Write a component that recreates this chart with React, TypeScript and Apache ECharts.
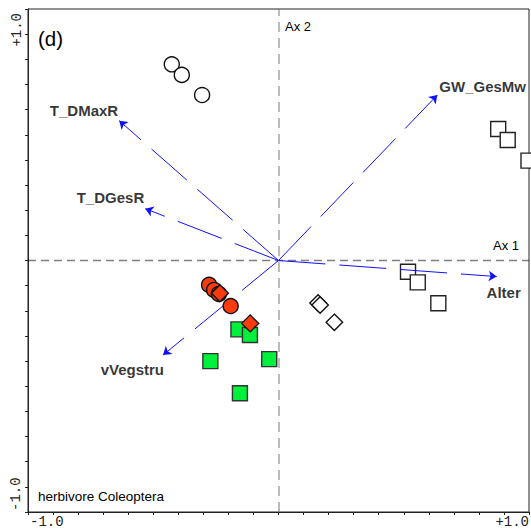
import React, { useEffect, useRef } from "react";
import * as echarts from "echarts";

// ---- data (ordination scores) ----
const openCircles = [[-0.426, 0.780], [-0.386, 0.738], [-0.305, 0.658]];
const openSquares = [[0.877, 0.523], [0.915, 0.479], [0.998, 0.397], [0.517, -0.045], [0.556, -0.087], [0.638, -0.170]];
const openDiamonds = [[0.158, -0.169], [0.166, -0.177], [0.223, -0.246]];
const greenSquares = [[-0.160, -0.274], [-0.114, -0.296], [-0.272, -0.400], [-0.037, -0.392], [-0.154, -0.528]];
const redCircles = [[-0.277, -0.097], [-0.257, -0.117], [-0.238, -0.133], [-0.191, -0.181]];
const redDiamonds = [[-0.234, -0.130], [-0.113, -0.250]];

const vectorNames = ["GW_GesMw", "T_DMaxR", "T_DGesR", "Alter", "vVegstru"];
const vectorX = [0.634, -0.636, -0.532, 0.871, -0.461];
const vectorY = [0.658, 0.556, 0.206, -0.064, -0.376];

const xTickLabels = ["-1.0", "+1.0"];
const yTickLabels = ["-1.0", "+1.0"];
const axisNames = ["Ax 1", "Ax 2"];
const panelTag = "(d)";
const groupTitle = "herbivore Coleoptera";

const SANS = "'Liberation Sans', Arial, sans-serif";
const MONO = "'Liberation Mono', 'DejaVu Sans Mono', monospace";

// label placement for each vector label (pixel offsets from arrow tip)
const labelPlace: Record<string, { align: string; offset: number[] }> = {
  GW_GesMw: { align: "left", offset: [2, -9] },
  T_DMaxR: { align: "right", offset: [-1, -10] },
  T_DGesR: { align: "right", offset: [-1, -11] },
  Alter: { align: "center", offset: [7, 16] },
  vVegstru: { align: "right", offset: [1, 14] },
};

export default function App() {
  const ref = useRef<HTMLDivElement>(null);
  useEffect(() => {
    if (!ref.current) return;
    const chart = echarts.init(ref.current, null, { renderer: "svg" });

    const scatter = (data: number[][], symbol: string, size: number, fill: string, stroke: string, z: number) => ({
      type: "scatter",
      data,
      symbol,
      symbolSize: size,
      z,
      clip: false,
      silent: true,
      itemStyle: { color: fill, borderColor: stroke, borderWidth: 1.4, opacity: 1 },
    });

    const option: any = {
      animation: false,
      backgroundColor: "#fff",
      grid: { left: 28, top: 9, width: 501, height: 503, show: true, borderColor: "#222", borderWidth: 1, backgroundColor: "transparent" },
      xAxis: {
        type: "value", min: -1, max: 1, interval: 0.1,
        axisLine: { show: true, onZero: false, lineStyle: { color: "#222", width: 1 } },
        axisTick: { show: true, inside: false, length: 3, lineStyle: { color: "#222" } },
        axisLabel: { show: false },
        splitLine: { show: false },
      },
      yAxis: {
        type: "value", min: -1, max: 1, interval: 0.1,
        axisLine: { show: true, onZero: false, lineStyle: { color: "#222", width: 1 } },
        axisTick: { show: true, inside: false, length: 3, lineStyle: { color: "#222" } },
        axisLabel: { show: false },
        splitLine: { show: false },
      },
      series: [
        {
          type: "lines",
          coordinateSystem: "cartesian2d",
          silent: true,
          z: 1,
          symbol: "none",
          data: [
            { coords: [[-1, 0], [1, 0]], lineStyle: { color: "#000", width: 1.4, type: [8, 5] } },
            { coords: [[0, -1], [0, 1]], lineStyle: { color: "#777", width: 2, type: [10, 6] } },
          ],
        },
        scatter(openSquares, "rect", 15, "#fff", "#222", 2),
        scatter(openDiamonds, "diamond", 16.5, "#fff", "#111", 2),
        scatter(openCircles, "circle", 15, "#fff", "#111", 2),
        {
          type: "lines",
          coordinateSystem: "cartesian2d",
          silent: true,
          z: 3,
          symbol: ["none", "arrow"],
          symbolSize: 8,
          lineStyle: { color: "#1010ff", width: 1, type: [47, 14], opacity: 1 },
          data: vectorNames.map((n, i) => ({ coords: [[0, 0], [vectorX[i], vectorY[i]]] })),
        },
        scatter(greenSquares, "rect", 15, "#00f03c", "#333", 4),
        scatter(redCircles, "circle", 15, "#f83c10", "#111", 4),
        scatter(redDiamonds, "diamond", 17, "#f83c10", "#111", 5),
        {
          type: "scatter",
          silent: true,
          z: 6,
          symbolSize: 0,
          clip: false,
          data: vectorNames.map((n, i) => ({
            value: [vectorX[i], vectorY[i]],
            name: n,
            label: {
              show: true,
              position: "inside",
              formatter: n,
              align: labelPlace[n].align,
              verticalAlign: "middle",
              offset: labelPlace[n].offset,
              color: "#000",
              fontWeight: "bold",
              fontSize: 15,
              fontFamily: SANS,
            },
          })),
        },
      ],
      graphic: [
        { type: "text", x: 38, y: 38, style: { text: panelTag, font: `20.5px ${SANS}`, fill: "#000", textVerticalAlign: "middle" } },
        { type: "text", x: 38, y: 496.5, style: { text: groupTitle, font: `13.5px ${SANS}`, fill: "#000", textVerticalAlign: "middle" } },
        { type: "text", x: 285, y: 26.5, style: { text: axisNames[1], font: `13px ${SANS}`, fill: "#000", textVerticalAlign: "middle" } },
        { type: "text", x: 493, y: 245, style: { text: axisNames[0], font: `13px ${SANS}`, fill: "#000", textVerticalAlign: "middle" } },
        { type: "text", x: 30, y: 522, style: { text: xTickLabels[0], font: `14px ${MONO}`, fill: "#222", textAlign: "left", textVerticalAlign: "middle" } },
        { type: "text", x: 529, y: 522, style: { text: xTickLabels[1], font: `14px ${MONO}`, fill: "#222", textAlign: "right", textVerticalAlign: "middle" } },
        { type: "text", x: 17, y: 13, rotation: Math.PI / 2, style: { text: yTickLabels[1], font: `14px ${MONO}`, fill: "#222", textAlign: "right", textVerticalAlign: "middle" } },
        { type: "text", x: 16, y: 511, rotation: Math.PI / 2, style: { text: yTickLabels[0], font: `14px ${MONO}`, fill: "#222", textAlign: "left", textVerticalAlign: "middle" } },
      ],
    };
    chart.setOption(option);
    return () => chart.dispose();
  }, []);
  return <div ref={ref} style={{ position: "absolute", left: 0, top: 0, width: 531, height: 530 }} />;
}
